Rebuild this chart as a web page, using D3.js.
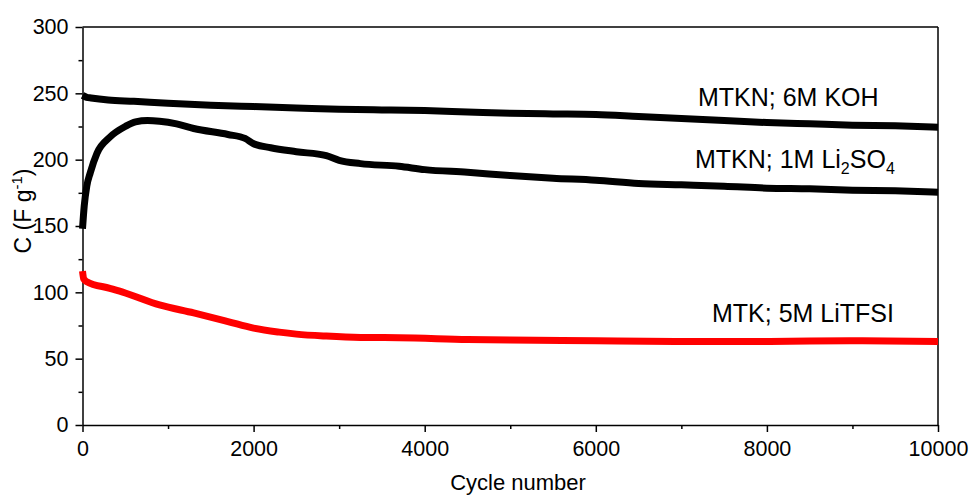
<!DOCTYPE html>
<html>
<head>
<meta charset="utf-8">
<script src="https://cdn.jsdelivr.net/npm/d3@7"></script>
<style>
  body { margin: 0; background: #fff; }
  text { font-family: Arial, "Liberation Sans", sans-serif; fill: #000; }
  .axis path, .axis line { stroke: #000; stroke-width: 1.5px; }
  .curve { fill: none; stroke-width: 7px; stroke-linejoin: round; }
</style>
</head>
<body>
<div class="chart"></div>
<script>
// cycle numbers + capacitance (F/g)
let kohCycles = [0, 50, 100, 300, 600, 1000, 1500, 2000, 2500, 3000, 3500, 4000, 4500, 5000, 5500, 6000, 6500, 7000, 7500, 8000, 8500, 9000, 9500, 10000];
let kohValues = [248.5, 247, 246.5, 245, 244, 242.5, 241, 240, 239, 238, 237.5, 237, 236, 235, 234.5, 234, 232.5, 231, 229.5, 228, 227, 226, 225.5, 224.5];

let liCycles = [0, 20, 50, 90, 170, 320, 500, 620, 760, 900, 1100, 1300, 1700, 1900, 2000, 2200, 2500, 2850, 3000, 3250, 3700, 4000, 4500, 5000, 5500, 6000, 6500, 7000, 7500, 8000, 8500, 9000, 9500, 10000];
let liValues = [148, 165, 180, 190, 205, 217, 225, 228.5, 229.5, 229, 227, 223.5, 219, 216, 212, 209, 206, 203, 199.5, 197, 195, 192.5, 190.5, 188, 186, 184.5, 182, 181, 180, 178.5, 178, 177, 176.5, 175.5];

let tfsiCycles = [0, 15, 50, 320, 500, 900, 1300, 1700, 2000, 2300, 2500, 2850, 3250, 3700, 4500, 5000, 6000, 7000, 8000, 9000, 10000];
let tfsiValues = [116, 110, 108, 103, 99.5, 90.5, 84.5, 78, 73, 70, 68.5, 67, 66, 65.8, 64.5, 64, 63.5, 63, 63, 63.5, 63];

let xTicks = [0, 2000, 4000, 6000, 8000, 10000];
let xMinor = [1000, 3000, 5000, 7000, 9000];
let yTicks = [0, 50, 100, 150, 200, 250, 300];
let yMinor = [25, 75, 125, 175, 225, 275];

let outerWidth = 969, outerHeight = 495;
let plotLeft = 82.5, plotRight = 938, plotTop = 27, plotBottom = 425;

let svg = d3.select(".chart").append("svg")
  .attr("width", outerWidth)
  .attr("height", outerHeight);

let x = d3.scaleLinear().domain([0, 10000]).range([plotLeft, plotRight]);
let y = d3.scaleLinear().domain([0, 300]).range([plotBottom, plotTop]);

// frame (top + right)
svg.append("line").attr("x1", plotLeft).attr("x2", plotRight).attr("y1", plotTop).attr("y2", plotTop)
  .attr("stroke", "#000").attr("stroke-width", 1.5);
svg.append("line").attr("x1", plotRight).attr("x2", plotRight).attr("y1", plotTop).attr("y2", plotBottom)
  .attr("stroke", "#000").attr("stroke-width", 1.5);

// minor ticks first, then major axis with labels
svg.append("g").attr("class", "axis")
  .attr("transform", "translate(0," + plotBottom + ")")
  .call(d3.axisBottom(x).tickValues(xMinor).tickSize(4).tickFormat(""))
  .call((g) => g.select(".domain").remove());
svg.append("g").attr("class", "axis")
  .attr("transform", "translate(" + plotLeft + ",0)")
  .call(d3.axisLeft(y).tickValues(yMinor).tickSize(4).tickFormat(""))
  .call((g) => g.select(".domain").remove());

let xAxis = svg.append("g").attr("class", "axis")
  .attr("transform", "translate(0," + plotBottom + ")")
  .call(d3.axisBottom(x).tickValues(xTicks).tickSize(7).tickSizeOuter(0).tickPadding(9).tickFormat(d3.format("d")));
xAxis.selectAll("text").style("font-size", "21.5px");

let yAxis = svg.append("g").attr("class", "axis")
  .attr("transform", "translate(" + plotLeft + ",0)")
  .call(d3.axisLeft(y).tickValues(yTicks).tickSize(7).tickSizeOuter(0).tickPadding(7));
yAxis.selectAll("text").style("font-size", "21.5px");

// curves
let line = d3.line()
  .x((d) => x(d[0]))
  .y((d) => y(d[1]))
  .curve(d3.curveMonotoneX);

let series = [
  { cycles: kohCycles, values: kohValues, color: "#000" },
  { cycles: liCycles, values: liValues, color: "#000" },
  { cycles: tfsiCycles, values: tfsiValues, color: "#ff0000" },
];
series.forEach((s) => {
  svg.append("path")
    .datum(s.cycles.map((c, i) => [c, s.values[i]]))
    .attr("class", "curve")
    .attr("stroke", s.color)
    .attr("d", line);
});

// annotations
svg.append("text").attr("x", 698).attr("y", 106)
  .style("font-size", "25px").text("MTKN; 6M KOH");

let liLabel = svg.append("text").attr("x", 695).attr("y", 168).style("font-size", "25px");
liLabel.append("tspan").text("MTKN; 1M Li");
liLabel.append("tspan").attr("dy", 6).style("font-size", "16px").text("2");
liLabel.append("tspan").attr("dy", -6).text("SO");
liLabel.append("tspan").attr("dy", 6).style("font-size", "16px").text("4");

svg.append("text").attr("x", 712).attr("y", 322)
  .style("font-size", "25px").text("MTK; 5M LiTFSI");

// axis titles
svg.append("text")
  .attr("x", 518).attr("y", 490)
  .attr("text-anchor", "middle")
  .style("font-size", "22px")
  .text("Cycle number");

let yTitle = svg.append("text")
  .attr("transform", "translate(31,211) rotate(-90)")
  .attr("text-anchor", "middle")
  .style("font-size", "23px");
yTitle.append("tspan").text("C (F g");
yTitle.append("tspan").attr("dy", -9).style("font-size", "15px").text("-1");
yTitle.append("tspan").attr("dy", 9).text(")");
</script>
</body>
</html>
